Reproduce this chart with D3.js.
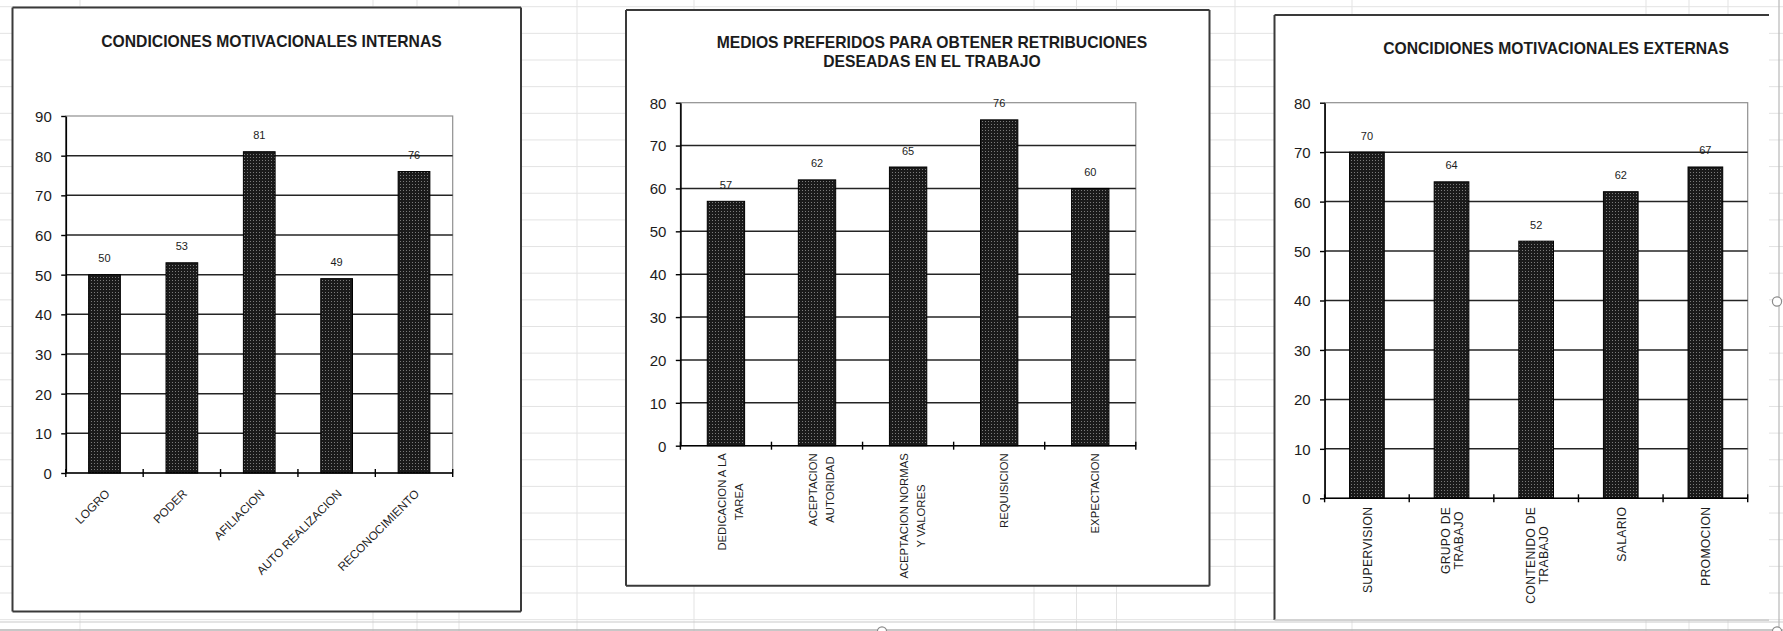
<!DOCTYPE html>
<html>
<head>
<meta charset="utf-8">
<script src="https://cdn.jsdelivr.net/npm/d3@7"></script>
<style>
  html, body { margin: 0; padding: 0; background: #ffffff; }
  svg { display: block; }
</style>
</head>
<body>
<svg id="hoja" width="1783" height="631"></svg>
<script>
// ---- Datos ----
const internasTitulo = ["CONDICIONES MOTIVACIONALES INTERNAS"];
const internasCategorias = [["LOGRO"], ["PODER"], ["AFILIACION"], ["AUTO REALIZACION"], ["RECONOCIMIENTO"]];
const internasValores = [50, 53, 81, 49, 76];
const internasTicks = [0, 10, 20, 30, 40, 50, 60, 70, 80, 90];

const mediosTitulo = ["MEDIOS PREFERIDOS PARA OBTENER RETRIBUCIONES", "DESEADAS EN EL TRABAJO"];
const mediosCategorias = [["DEDICACION A LA", "TAREA"], ["ACEPTACION", "AUTORIDAD"], ["ACEPTACION NORMAS", "Y VALORES"], ["REQUISICION"], ["EXPECTACION"]];
const mediosValores = [57, 62, 65, 76, 60];
const mediosTicks = [0, 10, 20, 30, 40, 50, 60, 70, 80];

const externasTitulo = ["CONCIDIONES MOTIVACIONALES EXTERNAS"];
const externasCategorias = [["SUPERVISION"], ["GRUPO DE", "TRABAJO"], ["CONTENIDO DE", "TRABAJO"], ["SALARIO"], ["PROMOCION"]];
const externasValores = [70, 64, 52, 62, 67];
const externasTicks = [0, 10, 20, 30, 40, 50, 60, 70, 80];

// ---- Layout ----
const FONT = "'Liberation Sans', Arial, Helvetica, sans-serif";
const INK = "#1c1c1c";

const svg = d3.select("#hoja");

// worksheet cell grid behind the charts
const hoja = svg.append("g");
const filas = d3.range(0, 24).map(k => 6.7 + k * 26.65);
hoja.selectAll("line.fila").data(filas).join("line")
  .attr("x1", 0).attr("x2", 1783).attr("y1", d => d).attr("y2", d => d)
  .attr("stroke", "#e3e3e3").attr("stroke-width", 1);
const columnas = [80, 373, 417, 459, 577, 694, 1034, 1076.5, 1116.5, 1235, 1352, 1646, 1689, 1728];
hoja.selectAll("line.col").data(columnas).join("line")
  .attr("x1", d => d).attr("x2", d => d).attr("y1", 0).attr("y2", 631)
  .attr("stroke", "#e3e3e3").attr("stroke-width", 1);
hoja.append("line").attr("x1", 0).attr("x2", 1783).attr("y1", 622).attr("y2", 622)
  .attr("stroke", "#c9c9c9").attr("stroke-width", 1.2);
hoja.append("line").attr("x1", 0).attr("x2", 1783).attr("y1", 630).attr("y2", 630)
  .attr("stroke", "#b5b5b5").attr("stroke-width", 1.5);

// dotted fill of the bars
const defs = svg.append("defs");
const pat = defs.append("pattern").attr("id", "trama")
  .attr("patternUnits", "userSpaceOnUse").attr("width", 3).attr("height", 3);
pat.append("rect").attr("width", 3).attr("height", 3).attr("fill", "#1a1a1a");
pat.append("rect").attr("x", 1).attr("y", 1).attr("width", 1).attr("height", 1).attr("fill", "#7a7a7a");

function grafico(cfg) {
  const g = svg.append("g");

  // chart area
  const b = cfg.box;
  g.append("rect").attr("x", b.x0).attr("y", b.y0)
    .attr("width", b.x1 - b.x0).attr("height", b.y1 - b.y0)
    .attr("fill", "#ffffff").attr("stroke", "none");
  (cfg.boxSides || ["top", "right", "bottom", "left"]).forEach(s => {
    const seg = {
      top: [b.x0, b.y0, b.x1, b.y0], bottom: [b.x0, b.y1, b.x1, b.y1],
      left: [b.x0, b.y0, b.x0, b.y1], right: [b.x1, b.y0, b.x1, b.y1]
    }[s];
    g.append("line").attr("x1", seg[0]).attr("y1", seg[1]).attr("x2", seg[2]).attr("y2", seg[3])
      .attr("stroke", "#3a3a3a").attr("stroke-width", 2);
  });
  (cfg.lightSides || []).forEach(s => {
    const seg = { bottom: [b.x0, b.y1, b.x1, b.y1], right: [b.x1, b.y0, b.x1, b.y1] }[s];
    g.append("line").attr("x1", seg[0]).attr("y1", seg[1]).attr("x2", seg[2]).attr("y2", seg[3])
      .attr("stroke", "#c4c4c4").attr("stroke-width", 1.5);
  });

  // title
  cfg.titulo.forEach((t, i) => {
    g.append("text").attr("x", cfg.tituloX).attr("y", cfg.tituloY[i] + 5.6)
      .attr("text-anchor", "middle").attr("font-family", FONT)
      .attr("font-weight", "bold").attr("font-size", 15.7).attr("fill", INK).text(t);
  });

  const p = cfg.plot;
  const n = cfg.categorias.length;
  const x = d3.scaleBand().domain(d3.range(n)).range([p.left, p.right])
    .paddingInner(0.59).paddingOuter(0.295);
  const y = d3.scaleLinear().domain([0, d3.max(cfg.ticks)]).range([p.bottom, p.top]);

  // plot area frame
  g.append("rect").attr("x", p.left).attr("y", p.top)
    .attr("width", p.right - p.left).attr("height", p.bottom - p.top)
    .attr("fill", "none").attr("stroke", "#8f8f8f").attr("stroke-width", 1.2);

  // horizontal gridlines
  g.append("g").selectAll("line").data(cfg.ticks.slice(1, -1)).join("line")
    .attr("x1", p.left).attr("x2", p.right)
    .attr("y1", d => y(d)).attr("y2", d => y(d))
    .attr("stroke", "#242424").attr("stroke-width", 1.5);

  // bars
  g.append("g").selectAll("rect").data(cfg.valores).join("rect")
    .attr("x", (d, i) => x(i)).attr("width", x.bandwidth())
    .attr("y", d => y(d)).attr("height", d => y(0) - y(d))
    .attr("fill", "url(#trama)").attr("stroke", "#000").attr("stroke-width", 1);

  // value labels
  g.append("g").selectAll("text").data(cfg.valores).join("text")
    .attr("x", (d, i) => x(i) + x.bandwidth() / 2).attr("y", d => y(d) - 12.5)
    .attr("text-anchor", "middle").attr("font-family", FONT).attr("font-size", 11)
    .attr("fill", INK).text(d => d);

  // value axis
  const ay = g.append("g").attr("transform", `translate(${p.left},0)`)
    .call(d3.axisLeft(y).tickValues(cfg.ticks).tickSize(4.6).tickSizeOuter(0).tickPadding(9.4));
  ay.select(".domain").attr("stroke", "#000").attr("stroke-width", 1.6);
  ay.selectAll(".tick line").attr("stroke", "#000").attr("stroke-width", 1.4);
  ay.selectAll(".tick text").attr("font-family", FONT).attr("font-size", 15)
    .attr("fill", INK).attr("dy", "0.36em");

  // category axis with crossing ticks on the category boundaries
  g.append("line").attr("x1", p.left).attr("x2", p.right)
    .attr("y1", y(0)).attr("y2", y(0)).attr("stroke", "#000").attr("stroke-width", 1.6);
  const step = x.step();
  g.append("g").selectAll("line").data(d3.range(n + 1)).join("line")
    .attr("x1", i => p.left + i * step).attr("x2", i => p.left + i * step)
    .attr("y1", y(0) - 4).attr("y2", y(0) + 4)
    .attr("stroke", "#000").attr("stroke-width", 1.4);

  // category labels
  const cats = g.append("g");
  cfg.categorias.forEach((lineas, i) => {
    const c = x(i) + x.bandwidth() / 2;
    if (cfg.etiquetas.modo === "diagonal") {
      cats.append("text")
        .attr("transform", `translate(${c + 6},${y(0) + 21.5}) rotate(-45)`)
        .attr("text-anchor", "end").attr("font-family", FONT)
        .attr("font-size", cfg.etiquetas.fs).attr("fill", INK).text(lineas[0]);
    } else {
      const e = cfg.etiquetas;
      const cap = 0.716 * e.fs;
      const gl = cats.append("g");
      const nodos = lineas.map((ln, j) => gl.append("text")
        .attr("x", 0).attr("y", (j - (lineas.length - 1) / 2) * e.interlinea + cap / 2)
        .attr("text-anchor", "middle").attr("font-family", FONT)
        .attr("font-size", e.fs).attr("letter-spacing", e.espaciado || 0)
        .attr("fill", INK).text(ln));
      const largo = d3.max(nodos, t => t.node().getComputedTextLength());
      gl.attr("transform", `translate(${c + e.dx},${y(0) + e.separacion + largo / 2}) rotate(-90)`);
    }
  });
}

grafico({
  box: { x0: 12.5, y0: 7.5, x1: 521, y1: 611.5 },
  titulo: internasTitulo, tituloX: 271.5, tituloY: [41.3],
  plot: { left: 65.8, right: 452.7, top: 116, bottom: 473 },
  categorias: internasCategorias, valores: internasValores, ticks: internasTicks,
  etiquetas: { modo: "diagonal", fs: 11.8 }
});

grafico({
  box: { x0: 626, y0: 10, x1: 1209.5, y1: 585.7 },
  titulo: mediosTitulo, tituloX: 932, tituloY: [42.7, 61.3],
  plot: { left: 680.4, right: 1135.8, top: 102.7, bottom: 445.7 },
  categorias: mediosCategorias, valores: mediosValores, ticks: mediosTicks,
  etiquetas: { modo: "vertical", fs: 11.3, interlinea: 17.5, dx: 4.5, separacion: 7.6 }
});

grafico({
  box: { x0: 1274.5, y0: 15, x1: 1769, y1: 620 },
  boxSides: ["top", "left"], lightSides: ["bottom"],
  titulo: externasTitulo, tituloX: 1556, tituloY: [48.3],
  plot: { left: 1324.6, right: 1747.7, top: 102.7, bottom: 498.3 },
  categorias: externasCategorias, valores: externasValores, ticks: externasTicks,
  etiquetas: { modo: "vertical", fs: 12.2, interlinea: 13, dx: 0.5, separacion: 8.4, espaciado: 0.3 }
});

// selection frame and handles around the chart group
const sel = svg.append("g");
sel.append("line").attr("x1", 1779).attr("x2", 1779).attr("y1", 0).attr("y2", 631)
  .attr("stroke", "#b8b8b8").attr("stroke-width", 1.2);
[[1777, 301.5], [882, 631.5], [1777, 631.5]].forEach(([cx, cy]) => {
  sel.append("circle").attr("cx", cx).attr("cy", cy).attr("r", 4.6)
    .attr("fill", "#ffffff").attr("stroke", "#8a8a8a").attr("stroke-width", 1.2);
});
</script>
</body>
</html>
